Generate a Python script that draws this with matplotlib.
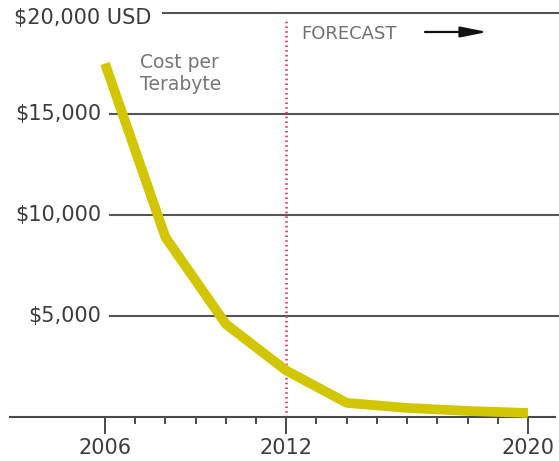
import numpy as np
import matplotlib.pyplot as plt
import matplotlib.transforms as mtransforms

plt.rcParams["font.family"] = ["DejaVu Sans"]

# cost of one terabyte of storage, USD
years = [2006, 2008, 2010, 2012, 2014, 2016, 2018, 2020]
cost = [17500, 8900, 4600, 2300, 700, 450, 300, 200]

grid_values = [5000, 10000, 15000, 20000]
grid_labels = ["$5,000", "$10,000", "$15,000", "$20,000 USD"]
major_years = [2006, 2012, 2020]
forecast_start = 2012

W, H = 559, 461
fig = plt.figure(figsize=(W / 100, H / 100), dpi=100)
# axes bottom edge is the baseline of the chart
ax = fig.add_axes([10 / W, 44 / H, 545 / W, 417 / H])
px_year = 30.21
x0 = 2006 - 95 / px_year
ax.set_xlim(x0, x0 + 545 / px_year)
ax.set_ylim(0, 417 / 101 * 5000)

for s in ["top", "right", "left"]:
    ax.spines[s].set_visible(False)
ax.spines["bottom"].set_color("#4a4a4a")
ax.spines["bottom"].set_linewidth(1.5)
ax.set_yticks([])

ax.set_xticks(major_years)
ax.set_xticklabels([str(y) for y in major_years])
ax.set_xticks(np.arange(2006, 2021), minor=True)
ax.tick_params(axis="x", which="major", length=12, width=1.4, color="#4a4a4a",
               pad=3, labelsize=15, labelcolor="#3c3c3c")
ax.tick_params(axis="x", which="minor", length=5, width=1.4, color="#4a4a4a")

# horizontal guide lines, x given in figure fraction
trans = mtransforms.blended_transform_factory(fig.transFigure, ax.transData)
for v, lab in zip(grid_values, grid_labels):
    start = 163 / W if v == 20000 else 110 / W
    ax.plot([start, 1.0], [v, v], transform=trans, color="#555555", lw=1.5,
            clip_on=False, zorder=1)
    if v == 20000:
        ax.text(14 / W, v - 250, lab, transform=trans, ha="left", va="center",
                fontsize=15, color="#3c3c3c")
    else:
        ax.text(101 / W, v, lab, transform=trans, ha="right", va="center",
                fontsize=15, color="#3c3c3c")

# forecast divider
ax.plot([forecast_start, forecast_start], [0, 19650], color="#e23d5c", lw=1.9,
        linestyle=(0, (0.6, 1.2)), zorder=2, clip_on=False)

ax.plot(years, cost, color="#d1c600", lw=7, solid_capstyle="butt",
        solid_joinstyle="round", zorder=3, clip_on=False)

ax.text(2007.16, 18000, "Cost per\nTerabyte", ha="left", va="top", fontsize=13.5,
        color="#777777", linespacing=1.2)
ax.text(2012.5, 18950, "FORECAST", ha="left", va="center", fontsize=13,
        color="#707070")
ax.annotate("", xy=(2018.75, 19060), xytext=(2016.5, 19060),
            arrowprops=dict(arrowstyle="-|>,head_length=1.0,head_width=0.2",
                            mutation_scale=16, color="#111111", lw=1.6))

fig.savefig("out.png", dpi=100)
